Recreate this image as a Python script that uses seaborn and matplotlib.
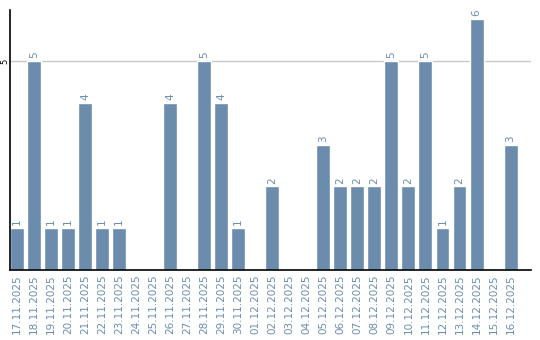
import matplotlib
matplotlib.use("Agg")
import matplotlib.pyplot as plt
import seaborn as sns
import pandas as pd

dates = ["17.11.2025", "18.11.2025", "19.11.2025", "20.11.2025", "21.11.2025",
         "22.11.2025", "23.11.2025", "24.11.2025", "25.11.2025", "26.11.2025",
         "27.11.2025", "28.11.2025", "29.11.2025", "30.11.2025", "01.12.2025",
         "02.12.2025", "03.12.2025", "04.12.2025", "05.12.2025", "06.12.2025",
         "07.12.2025", "08.12.2025", "09.12.2025", "10.12.2025", "11.12.2025",
         "12.12.2025", "13.12.2025", "14.12.2025", "15.12.2025", "16.12.2025"]
values = [1, 5, 1, 1, 4, 1, 1, 0, 0, 4,
          0, 5, 4, 1, 0, 2, 0, 0, 3, 2,
          2, 2, 5, 2, 5, 1, 2, 6, 0, 3]

bar_color = "#6b8cac"
label_color = "#6a8db0"

sns.set_style("white")
plt.rcParams['font.family'] = ['DejaVu Sans']

df = pd.DataFrame({"date": dates, "value": values})

fig = plt.figure(figsize=(5.4, 3.4), dpi=100)
ax = fig.add_axes([10/540, 70/340, 521/540, 260/340])

sns.barplot(data=df, x="date", y="value", color=bar_color, saturation=1,
            width=0.82, ax=ax, zorder=2)

labels = [str(v) if v > 0 else "" for v in values]
ax.bar_label(ax.containers[0], labels=labels, rotation=90, fontsize=7.5,
             color=label_color, padding=2)

ax.set_xlim(-0.41, 30.2)
ax.set_ylim(0, 6.22)
ax.set_yticks([5])
ax.set_yticklabels(["5"], rotation=90, va="center", fontsize=6)
ax.tick_params(axis="y", length=0, pad=0.5, colors="black")
ax.tick_params(axis="x", length=0, pad=3, labelsize=7.5, labelcolor=label_color)
for lab in ax.get_xticklabels():
    lab.set_rotation(90)
ax.axhline(5, color="#c8c8c8", linewidth=1, zorder=1)

ax.set_xlabel("")
ax.set_ylabel("")
for s in ["top", "right"]:
    ax.spines[s].set_visible(False)
for s in ["left", "bottom"]:
    ax.spines[s].set_color("black")
    ax.spines[s].set_linewidth(1.2)

fig.savefig("out.png", dpi=100)
